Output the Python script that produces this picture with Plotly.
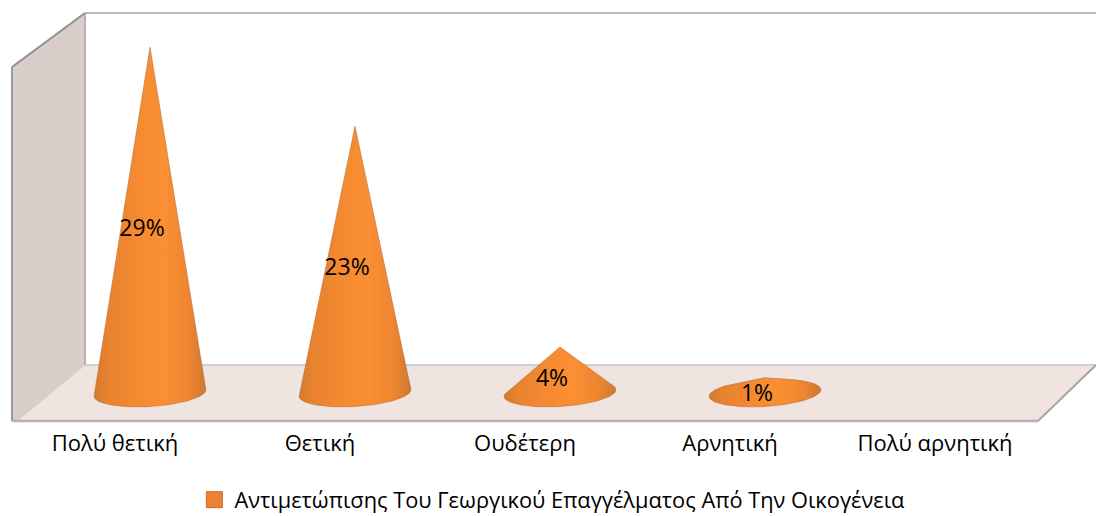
import numpy as np
import plotly.graph_objects as go

categories = ["Πολύ θετική", "Θετική", "Ουδέτερη", "Αρνητική", "Πολύ αρνητική"]
values = [29.3, 22.6, 3.9, 1.3]
series_name = "Αντιμετώπισης Του Γεωργικού Επαγγέλματος Από Την Οικογένεια"

W, H, PLOT_H = 1096, 516, 421
PX_X = 205.0      # px per category
PX_Y = 11.8       # px per value unit
X0_PX = 115.0     # px of first tick label
Y0_PX = 393.0     # px of value 0 on the floor
DEPTH = 35 / PX_X  # cones stand behind the category tick
FONT = "Open Sans"

x_range = [-X0_PX / PX_X, (W - X0_PX) / PX_X]
y_range = [(Y0_PX - PLOT_H) / PX_Y, Y0_PX / PX_Y]


def hull(pts):
    pts = sorted(map(tuple, pts))
    def half(seq):
        out = []
        for p in seq:
            while len(out) > 1 and (out[-1][0]-out[-2][0])*(p[1]-out[-2][1]) - (out[-1][1]-out[-2][1])*(p[0]-out[-2][0]) <= 0:
                out.pop()
            out.append(p)
        return out[:-1]
    return half(pts) + half(pts[::-1])


def cone(i, v):
    t = np.linspace(0, 2 * np.pi, 120, endpoint=False)
    rx, ry, tilt = 56.0, 13.5, np.arctan(7 / 113)
    ex = rx * np.cos(t) * np.cos(tilt) - ry * np.sin(t) * np.sin(tilt)
    ey = rx * np.cos(t) * np.sin(tilt) + ry * np.sin(t) * np.cos(tilt)
    pts = [(i + DEPTH + a / PX_X, b / PX_Y) for a, b in zip(ex, ey)]
    pts.append((i + DEPTH, v))
    h = hull(pts)
    h.append(h[0])
    return [p[0] for p in h], [p[1] for p in h]


def px(x, y):
    return x / W, 1 - y / PLOT_H


def poly(points, fill, line="rgba(0,0,0,0)", width=0):
    path = "M" + " L".join(f"{a:.5f},{b:.5f}" for a, b in (px(*p) for p in points)) + " Z"
    return dict(type="path", path=path, xref="paper", yref="paper", fillcolor=fill,
                line=dict(color=line, width=width), layer="below")


def seg(p, q, color, width):
    a, b = px(*p), px(*q)
    return dict(type="line", xref="paper", yref="paper", x0=a[0], y0=a[1], x1=b[0], y1=b[1],
                line=dict(color=color, width=width), layer="below")


shapes = [
    poly([(12, 67), (85, 13), (85, 365), (17, 421), (12, 421)], "#d8cdc8"),
    poly([(17, 421), (85, 365), (1096, 365), (1038, 421)], "#efe4df"),
    seg((85, 13), (1096, 13), "#bdbdbd", 2),
    seg((85, 13), (85, 365), "#b5b2b0", 2),
    seg((12, 67), (85, 13), "#8f8f8f", 2),
    seg((12, 67), (12, 421), "#9a9a9a", 2),
    seg((85, 365), (1096, 365), "#d4cecb", 2),
    seg((17, 421), (85, 365), "#d6ccc7", 1),
    seg((12, 421), (1038, 421), "#b4b0ae", 2.5),
    seg((1038, 421), (1096, 365), "#a9a6a4", 2),
]

fig = go.Figure()
for i, v in enumerate(values):
    xs, ys = cone(i, v)
    fig.add_trace(go.Scatter(
        x=xs, y=ys, mode="lines", fill="toself", showlegend=False, hoverinfo="skip",
        line=dict(color="rgba(176,105,55,0.5)", width=1),
        fillgradient=dict(type="horizontal", colorscale=[
            [0, "#d27a2e"], [0.12, "#e8822f"], [0.4, "#f58a30"],
            [0.62, "#fa8f34"], [0.85, "#ee8530"], [1, "#cd7830"]]),
    ))

fig.add_trace(go.Scatter(
    x=[i + DEPTH - 8 / PX_X for i in range(len(values))],
    y=[v / 2 - 0.85 for v in values],
    text=[f"{v:.0f}%" for v in values],
    mode="text", textposition="middle center", showlegend=False, hoverinfo="skip",
    textfont=dict(family=FONT, size=23, color="#000000"),
))

fig.add_trace(go.Scatter(
    x=[None], y=[None], mode="markers", name=series_name,
    marker=dict(symbol="square", size=16, color="#ee7f33", line=dict(color="#c96f30", width=1)),
))

fig.update_layout(
    width=W, height=H, autosize=False,
    margin=dict(l=0, r=0, t=0, b=H - PLOT_H, pad=0, autoexpand=False),
    paper_bgcolor="#ffffff", plot_bgcolor="rgba(0,0,0,0)",
    shapes=shapes,
    font=dict(family=FONT, size=22, color="#000000"),
    legend=dict(orientation="h", x=0.504, xanchor="center", y=-0.2376, yanchor="bottom",
                font=dict(family=FONT, size=21.8), itemwidth=30, bgcolor="rgba(0,0,0,0)"),
    xaxis=dict(range=x_range, tickmode="array", tickvals=list(range(len(categories))),
               ticktext=categories, showgrid=False, zeroline=False, showline=False, automargin=False,
               ticks="", tickfont=dict(family=FONT, size=22, color="#000000"), ticklabelstandoff=7, fixedrange=True),
    yaxis=dict(range=y_range, visible=False, showgrid=False, zeroline=False, fixedrange=True),
)

fig.write_html("out.html", config={"displayModeBar": False},
               post_script="document.body.style.margin='0';document.body.style.overflow='hidden';")
